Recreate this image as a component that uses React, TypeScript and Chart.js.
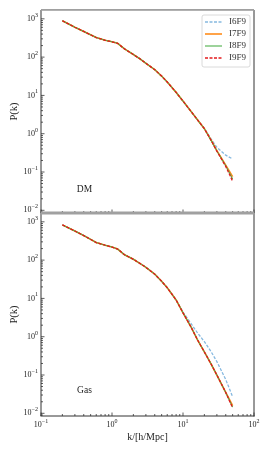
import React, { useEffect, useRef } from 'react';
import { Chart, registerables } from 'chart.js';

Chart.register(...registerables);

// wavenumbers k [h/Mpc]
const kValues = [0.2, 0.3, 0.4, 0.6, 0.8, 1.0, 1.2, 1.5, 2, 2.5, 3, 4, 5, 6, 8, 10, 13, 16, 20, 25, 30, 40, 50];

// DM power spectra
const dmI6F9 = [891, 603, 468, 324, 275, 251, 229, 164, 117, 89, 69, 47, 32, 22.4, 12.0, 7.1, 3.8, 2.3, 1.4, 0.72, 0.44, 0.275, 0.219];
const dmI7F9 = [891, 603, 468, 324, 275, 251, 229, 164, 117, 89, 69, 47, 32, 22.4, 12.0, 7.1, 3.8, 2.3, 1.35, 0.67, 0.36, 0.151, 0.076];
const dmI8F9 = [891, 603, 468, 324, 275, 251, 229, 164, 117, 89, 69, 47, 32, 22.4, 12.0, 7.1, 3.8, 2.3, 1.35, 0.66, 0.355, 0.145, 0.066];
const dmI9F9 = [891, 603, 468, 324, 275, 251, 229, 164, 117, 89, 69, 47, 32, 22.4, 12.0, 7.1, 3.8, 2.3, 1.35, 0.66, 0.35, 0.14, 0.0575];

// Gas power spectra
const gasI6F9 = [832, 575, 437, 288, 245, 219, 195, 138, 105, 81, 65, 43, 28, 19, 9.1, 4.4, 2.2, 1.26, 0.74, 0.40, 0.224, 0.076, 0.027];
const gasI7F9 = [832, 575, 437, 288, 245, 219, 195, 138, 105, 81, 65, 43, 28, 19, 9.1, 4.2, 1.78, 0.83, 0.40, 0.19, 0.10, 0.035, 0.0158];
const gasI8F9 = [832, 575, 437, 288, 245, 219, 195, 138, 105, 81, 65, 43, 28, 19, 9.1, 4.2, 1.78, 0.83, 0.40, 0.19, 0.10, 0.035, 0.0145];
const gasI9F9 = [832, 575, 437, 288, 245, 219, 195, 138, 105, 81, 65, 43, 28, 19, 9.1, 4.2, 1.78, 0.83, 0.40, 0.19, 0.10, 0.035, 0.0138];

const seriesNames = ['I6F9', 'I7F9', 'I8F9', 'I9F9'];
const seriesColors = ['#86b9e0', '#ff8c1a', '#4daf4a', '#e31a1c'];
const seriesWidths = [1.3, 1.6, 1.1, 1.3];
const seriesDashes: number[][] = [[3, 1.5], [], [], [3, 1.5]];

const xTickValues = [0.1, 1, 10, 100];
const yTickValues = [0.01, 0.1, 1, 10, 100, 1000];
const yMin = 0.0085;
const yMax = 1700;

const panelLabels = ['DM', 'Gas'];
const panelLabelK = 0.41;
const panelLabelP = [0.034, 0.04];
const xTitle = 'k/[h/Mpc]';
const yTitle = 'P(k)';

const SERIF = '"Liberation Serif", "DejaVu Serif", serif';

function drawPow10(ctx: CanvasRenderingContext2D, exp: number, x: number, y: number, align: 'right' | 'center') {
  const base = '10';
  const e = exp < 0 ? '\u2212' + Math.abs(exp) : String(exp);
  ctx.font = `8px ${SERIF}`;
  const bw = ctx.measureText(base).width;
  ctx.font = `6px ${SERIF}`;
  const ew = ctx.measureText(e).width;
  const total = bw + ew;
  const left = align === 'right' ? x - total : x - total / 2;
  ctx.textAlign = 'left';
  ctx.textBaseline = 'middle';
  ctx.font = `8px ${SERIF}`;
  ctx.fillText(base, left, y);
  ctx.font = `6px ${SERIF}`;
  ctx.fillText(e, left + bw, y - 3.5);
}

const framePlugin = {
  id: 'framePlugin',
  afterDraw(chart: any) {
    const ctx: CanvasRenderingContext2D = chart.ctx;
    const xs = chart.scales.x;
    const panels = [chart.scales.yDM, chart.scales.yGas];
    const left = chart.chartArea.left;
    const right = chart.chartArea.right;
    ctx.save();
    panels.forEach((ys: any, pi: number) => {
      const top = ys.top;
      const bottom = ys.bottom;
      ctx.lineWidth = 0.8;
      ctx.strokeStyle = '#333';
      for (let e = -3; e <= 3; e++) {
        for (let m = 1; m <= 9; m++) {
          const v = m * Math.pow(10, e);
          if (v < yMin || v > yMax) continue;
          const py = ys.getPixelForValue(v);
          const len = m === 1 ? 3.5 : 2;
          ctx.beginPath();
          ctx.moveTo(left, py);
          ctx.lineTo(left + len, py);
          ctx.stroke();
        }
      }
      for (let e = -1; e <= 2; e++) {
        for (let m = 1; m <= 9; m++) {
          const v = m * Math.pow(10, e);
          if (v < 0.1 || v > 100) continue;
          const px = xs.getPixelForValue(v);
          const len = m === 1 ? 3.5 : 2;
          ctx.beginPath();
          ctx.moveTo(px, bottom);
          ctx.lineTo(px, bottom - len);
          ctx.stroke();
        }
      }
      ctx.fillStyle = '#222';
      yTickValues.forEach((v) => {
        const py = ys.getPixelForValue(v);
        drawPow10(ctx, Math.round(Math.log10(v)), left - 3, py, 'right');
      });
      ctx.save();
      ctx.translate(14, (top + bottom) / 2);
      ctx.rotate(-Math.PI / 2);
      ctx.font = `10.5px ${SERIF}`;
      ctx.textAlign = 'center';
      ctx.textBaseline = 'middle';
      ctx.fillText(yTitle, 0, 0);
      ctx.restore();
      ctx.font = `9.5px ${SERIF}`;
      ctx.textAlign = 'center';
      ctx.textBaseline = 'middle';
      ctx.fillText(panelLabels[pi], xs.getPixelForValue(panelLabelK), ys.getPixelForValue(panelLabelP[pi]));
    });
    const bottomAxis = chart.scales.yGas.bottom;
    xTickValues.forEach((v) => {
      drawPow10(ctx, Math.round(Math.log10(v)), xs.getPixelForValue(v), bottomAxis + 9, 'center');
    });
    ctx.font = `10px ${SERIF}`;
    ctx.textAlign = 'center';
    ctx.textBaseline = 'middle';
    ctx.fillText(xTitle, (left + right) / 2, bottomAxis + 21);

    const topY = chart.scales.yDM.top;
    const midY = chart.scales.yDM.bottom;
    const botY = chart.scales.yGas.bottom;
    ctx.strokeStyle = '#333';
    ctx.lineWidth = 1;
    ctx.beginPath();
    ctx.moveTo(left, topY);
    ctx.lineTo(left, botY);
    ctx.moveTo(right, topY);
    ctx.lineTo(right, botY + 0.5);
    ctx.moveTo(left - 0.5, botY);
    ctx.lineTo(right + 0.5, botY);
    ctx.stroke();
    ctx.fillStyle = '#a0a0a0';
    ctx.fillRect(left, topY - 1, right - left, 1.8);
    ctx.fillRect(left, midY - 1.5, right - left, 3);

    const lx = 202, ly = 15, lw = 48, lh = 52;
    ctx.fillStyle = 'rgba(255,255,255,0.85)';
    ctx.strokeStyle = '#d0d0d0';
    ctx.lineWidth = 0.8;
    ctx.beginPath();
    (ctx as any).roundRect ? (ctx as any).roundRect(lx, ly, lw, lh, 2) : ctx.rect(lx, ly, lw, lh);
    ctx.fill();
    ctx.stroke();
    seriesNames.forEach((name, i) => {
      const yy = ly + 7 + i * 12;
      ctx.strokeStyle = seriesColors[i];
      ctx.lineWidth = seriesWidths[i];
      ctx.setLineDash(seriesDashes[i]);
      ctx.beginPath();
      ctx.moveTo(lx + 3, yy);
      ctx.lineTo(lx + 20, yy);
      ctx.stroke();
      ctx.setLineDash([]);
      ctx.fillStyle = '#333';
      ctx.font = `9px ${SERIF}`;
      ctx.textAlign = 'left';
      ctx.textBaseline = 'middle';
      ctx.fillText(name, lx + 27, yy);
    });
    ctx.restore();
  },
};

function makeDatasets(panel: 'yDM' | 'yGas', series: number[][]) {
  return series.map((vals, i) => ({
    label: `${panelLabels[panel === 'yDM' ? 0 : 1]} ${seriesNames[i]}`,
    data: kValues.map((k, j) => ({ x: k, y: vals[j] })),
    yAxisID: panel,
    xAxisID: 'x',
    borderColor: seriesColors[i],
    backgroundColor: seriesColors[i],
    borderWidth: seriesWidths[i],
    borderDash: seriesDashes[i],
    pointRadius: 0,
    tension: 0,
    fill: false,
    order: 4 - i,
  }));
}

const hiddenScale = {
  ticks: { display: false },
  grid: { display: false },
  border: { display: false },
};

export default function App() {
  const canvasRef = useRef<HTMLCanvasElement | null>(null);
  useEffect(() => {
    if (!canvasRef.current) return;
    const chart = new Chart(canvasRef.current, {
      type: 'line',
      data: {
        datasets: [
          ...makeDatasets('yDM', [dmI6F9, dmI7F9, dmI8F9, dmI9F9]),
          ...makeDatasets('yGas', [gasI6F9, gasI7F9, gasI8F9, gasI9F9]),
        ],
      },
      options: {
        responsive: false,
        animation: false,
        devicePixelRatio: 1,
        layout: { padding: { top: 10, right: 16, left: 0, bottom: 0 } },
        plugins: { legend: { display: false }, tooltip: { enabled: false } },
        scales: {
          x: {
            type: 'logarithmic',
            position: 'bottom',
            min: 0.1,
            max: 100,
            ...hiddenScale,
            afterFit: (s: any) => { s.height = 34; },
          },
          yGas: {
            type: 'logarithmic',
            position: 'left',
            stack: 'panels',
            stackWeight: 1,
            min: yMin,
            max: yMax,
            ...hiddenScale,
            afterFit: (s: any) => { s.width = 41; },
          },
          yDM: {
            type: 'logarithmic',
            position: 'left',
            stack: 'panels',
            stackWeight: 1,
            min: yMin,
            max: yMax,
            ...hiddenScale,
            afterFit: (s: any) => { s.width = 41; },
          },
        },
      } as any,
      plugins: [framePlugin],
    });
    return () => chart.destroy();
  }, []);
  return (
    <div style={{ position: 'absolute', left: 0, top: 0, width: 270, height: 450 }}>
      <canvas ref={canvasRef} width={270} height={450} style={{ width: 270, height: 450 }} />
    </div>
  );
}
